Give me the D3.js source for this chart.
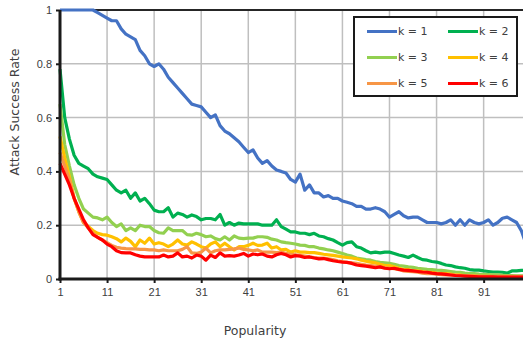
<!DOCTYPE html>
<html>
<head>
<meta charset="utf-8">
<script src="https://cdn.jsdelivr.net/npm/d3@7"></script>
<style>
  body { margin: 0; background: #fff; }
  svg { display: block; font-family: "DejaVu Sans", sans-serif; }
</style>
</head>
<body>
<div id="chart"></div>
<script>
// popularity 1..100
const popularity = d3.range(1, 101);
const xTicks = [1, 11, 21, 31, 41, 51, 61, 71, 81, 91];
const yTicks = [0, 0.2, 0.4, 0.6, 0.8, 1];
const seriesNames = ['k = 1', 'k = 2', 'k = 3', 'k = 4', 'k = 5', 'k = 6'];
const seriesColors = ['#4472C4', '#00B050', '#92D050', '#FFC000', '#F79646', '#FF0000'];

const k1 = [1, 1, 1, 1, 1, 1, 1, 1, 0.99, 0.98,
  0.97, 0.96, 0.96, 0.93, 0.91, 0.9, 0.89, 0.85, 0.83, 0.8,
  0.79, 0.8, 0.78, 0.75, 0.73, 0.71, 0.69, 0.67, 0.65, 0.645,
  0.64, 0.62, 0.6, 0.61, 0.57, 0.55, 0.54, 0.525, 0.51, 0.49,
  0.47, 0.48, 0.45, 0.43, 0.44, 0.42, 0.405, 0.4, 0.394, 0.37,
  0.36, 0.39, 0.33, 0.35, 0.32, 0.32, 0.305, 0.31, 0.3, 0.3,
  0.29, 0.285, 0.28, 0.27, 0.27, 0.26, 0.26, 0.265, 0.26, 0.25,
  0.23, 0.24, 0.25, 0.235, 0.227, 0.23, 0.23, 0.22, 0.21, 0.21,
  0.21, 0.205, 0.21, 0.22, 0.2, 0.22, 0.2, 0.22, 0.21, 0.205,
  0.21, 0.22, 0.2, 0.21, 0.226, 0.23, 0.22, 0.21, 0.18, 0.13];
const k2 = [0.78, 0.6, 0.52, 0.46, 0.43, 0.42, 0.41, 0.39, 0.38, 0.375,
  0.37, 0.35, 0.33, 0.32, 0.33, 0.3, 0.32, 0.29, 0.3, 0.28,
  0.256, 0.25, 0.25, 0.265, 0.23, 0.245, 0.24, 0.23, 0.238, 0.232,
  0.22, 0.225, 0.225, 0.22, 0.24, 0.2, 0.21, 0.2, 0.208, 0.205,
  0.205, 0.205, 0.205, 0.2, 0.2, 0.2, 0.22, 0.195, 0.185, 0.175,
  0.175, 0.17, 0.17, 0.165, 0.17, 0.16, 0.157, 0.15, 0.145, 0.135,
  0.126, 0.135, 0.138, 0.12, 0.115, 0.105, 0.097, 0.1, 0.097, 0.1,
  0.1, 0.095, 0.089, 0.085, 0.08, 0.089, 0.08, 0.072, 0.07, 0.065,
  0.063, 0.058, 0.052, 0.05, 0.045, 0.042, 0.04, 0.035, 0.033, 0.033,
  0.03, 0.028, 0.026, 0.026, 0.025, 0.022, 0.03, 0.03, 0.032, 0.032];
const k3 = [0.65, 0.5, 0.42, 0.35, 0.3, 0.26, 0.245, 0.23, 0.227, 0.22,
  0.23, 0.21, 0.195, 0.205, 0.18, 0.19, 0.18, 0.2, 0.195, 0.195,
  0.18, 0.172, 0.17, 0.19, 0.18, 0.18, 0.18, 0.165, 0.163, 0.17,
  0.165, 0.157, 0.16, 0.15, 0.145, 0.157, 0.145, 0.16, 0.152, 0.15,
  0.152, 0.152, 0.157, 0.157, 0.155, 0.148, 0.145, 0.138, 0.135, 0.133,
  0.13, 0.126, 0.125, 0.12, 0.12, 0.115, 0.112, 0.108, 0.105, 0.1,
  0.095, 0.089, 0.085, 0.078, 0.075, 0.072, 0.07, 0.065, 0.062, 0.06,
  0.058, 0.055, 0.05, 0.048, 0.045, 0.043, 0.04, 0.038, 0.036, 0.035,
  0.033, 0.032, 0.03, 0.028, 0.026, 0.025, 0.022, 0.02, 0.02, 0.018,
  0.017, 0.016, 0.015, 0.015, 0.014, 0.013, 0.013, 0.012, 0.012, 0.012];
const k4 = [0.53, 0.45, 0.38, 0.3, 0.25, 0.21, 0.195, 0.18, 0.17, 0.165,
  0.163, 0.157, 0.15, 0.138, 0.152, 0.14, 0.12, 0.145, 0.133, 0.152,
  0.13, 0.135, 0.13, 0.12, 0.13, 0.145, 0.13, 0.126, 0.138, 0.13,
  0.12, 0.115, 0.13, 0.138, 0.12, 0.133, 0.12, 0.108, 0.12, 0.12,
  0.125, 0.133, 0.125, 0.126, 0.133, 0.115, 0.12, 0.108, 0.11, 0.1,
  0.105, 0.1, 0.1, 0.098, 0.098, 0.095, 0.092, 0.09, 0.088, 0.085,
  0.082, 0.08, 0.078, 0.075, 0.07, 0.066, 0.063, 0.06, 0.055, 0.05,
  0.05, 0.045, 0.04, 0.035, 0.035, 0.03, 0.03, 0.028, 0.025, 0.025,
  0.022, 0.02, 0.02, 0.018, 0.015, 0.015, 0.013, 0.012, 0.012, 0.01,
  0.01, 0.01, 0.009, 0.009, 0.009, 0.008, 0.008, 0.008, 0.008, 0.008];
const k5 = [0.47, 0.42, 0.37, 0.3, 0.25, 0.21, 0.19, 0.17, 0.155, 0.145,
  0.135, 0.125, 0.118, 0.115, 0.113, 0.112, 0.112, 0.11, 0.11, 0.108,
  0.108, 0.105, 0.108, 0.105, 0.105, 0.105, 0.11, 0.12, 0.097, 0.095,
  0.1, 0.115, 0.097, 0.105, 0.108, 0.108, 0.11, 0.112, 0.115, 0.11,
  0.108, 0.105, 0.108, 0.1, 0.1, 0.1, 0.098, 0.1, 0.095, 0.092,
  0.09, 0.088, 0.085, 0.082, 0.08, 0.078, 0.078, 0.075, 0.072, 0.068,
  0.065, 0.062, 0.06, 0.058, 0.055, 0.052, 0.05, 0.048, 0.045, 0.042,
  0.04, 0.038, 0.035, 0.03, 0.028, 0.027, 0.025, 0.022, 0.02, 0.02,
  0.018, 0.016, 0.015, 0.015, 0.014, 0.013, 0.012, 0.012, 0.011, 0.011,
  0.01, 0.01, 0.01, 0.01, 0.01, 0.01, 0.01, 0.01, 0.01, 0.01];
const k6 = [0.43, 0.39, 0.35, 0.3, 0.26, 0.22, 0.19, 0.165, 0.155, 0.145,
  0.13, 0.12, 0.105, 0.098, 0.097, 0.097, 0.09, 0.085, 0.082, 0.082,
  0.082, 0.082, 0.089, 0.082, 0.085, 0.097, 0.082, 0.085, 0.078, 0.089,
  0.085, 0.07, 0.089, 0.08, 0.097, 0.085, 0.087, 0.085, 0.089, 0.095,
  0.085, 0.093, 0.09, 0.093, 0.085, 0.082, 0.09, 0.095, 0.09, 0.082,
  0.087, 0.085, 0.08, 0.082, 0.078, 0.075, 0.076, 0.072, 0.068, 0.065,
  0.063, 0.062, 0.058, 0.052, 0.05, 0.048, 0.045, 0.042, 0.045, 0.04,
  0.038, 0.04, 0.036, 0.033, 0.032, 0.03, 0.028, 0.026, 0.025, 0.022,
  0.02, 0.019, 0.017, 0.015, 0.013, 0.012, 0.011, 0.01, 0.009, 0.008,
  0.008, 0.008, 0.008, 0.007, 0.007, 0.007, 0.007, 0.007, 0.007, 0.007];
const seriesValues = [k1, k2, k3, k4, k5, k6];

const width = 523, height = 340;
const margin = { top: 10, right: -3, bottom: 61, left: 60 };
const plotW = width - margin.left - margin.right;
const plotH = height - margin.top - margin.bottom;

const svg = d3.select('#chart')
  .append('svg')
  .attr('width', width)
  .attr('height', height);

const x = d3.scaleLinear().domain([1, 100]).range([0, plotW]);
const y = d3.scaleLinear().domain([0, 1]).range([plotH, 0]);

const g = svg.append('g')
  .attr('transform', `translate(${margin.left},${margin.top})`);

// gridlines
g.append('g')
  .selectAll('line')
  .data(xTicks.slice(1))
  .join('line')
  .attr('x1', d => x(d)).attr('x2', d => x(d))
  .attr('y1', 0).attr('y2', plotH)
  .attr('stroke', '#bfbfbf')
  .attr('stroke-width', 1.5);

g.append('g')
  .selectAll('line')
  .data(yTicks.slice(1, -1))
  .join('line')
  .attr('x1', 0).attr('x2', plotW)
  .attr('y1', d => y(d)).attr('y2', d => y(d))
  .attr('stroke', '#bfbfbf')
  .attr('stroke-width', 1.5);

// top border
g.append('line')
  .attr('x1', 0).attr('x2', plotW)
  .attr('y1', 0).attr('y2', 0)
  .attr('stroke', '#262626')
  .attr('stroke-width', 2);

// lines
const line = d3.line()
  .x((d, i) => x(popularity[i]))
  .y(d => y(d));

g.append('g')
  .selectAll('path')
  .data(seriesValues)
  .join('path')
  .attr('d', line)
  .attr('fill', 'none')
  .attr('stroke', (d, i) => seriesColors[i])
  .attr('stroke-width', 3.2)
  .attr('stroke-linejoin', 'round');

// axes
const xAxis = g.append('g')
  .attr('transform', `translate(0,${plotH})`)
  .call(d3.axisBottom(x).tickValues(xTicks).tickSize(4).tickPadding(5));
xAxis.select('.domain').attr('stroke', '#1a1a1a').attr('stroke-width', 3).attr('d', `M-1.5,0H${plotW}`);
xAxis.selectAll('.tick line').attr('stroke', '#1a1a1a').attr('stroke-width', 2);
xAxis.selectAll('.tick text').attr('fill', '#404040').style('font-size', '11px');

const yAxis = g.append('g')
  .call(d3.axisLeft(y).tickValues(yTicks).tickSize(4).tickPadding(4)
    .tickFormat(d => d === 0 || d === 1 ? String(d) : d3.format('.1f')(d)));
yAxis.select('.domain').attr('stroke', '#1a1a1a').attr('stroke-width', 3).attr('d', `M0,0V${plotH + 1.5}`);
yAxis.selectAll('.tick line').attr('stroke', '#1a1a1a').attr('stroke-width', 2);
yAxis.selectAll('.tick text').attr('fill', '#404040').style('font-size', '11px');

// axis titles
svg.append('text')
  .attr('x', 255).attr('y', 335)
  .attr('text-anchor', 'middle')
  .attr('fill', '#404040')
  .style('font-size', '12.5px')
  .text('Popularity');

svg.append('text')
  .attr('transform', 'translate(19,112) rotate(-90)')
  .attr('text-anchor', 'middle')
  .attr('fill', '#404040')
  .style('font-size', '12.5px')
  .text('Attack Success Rate');

// legend
const legend = svg.append('g').attr('transform', 'translate(354,17)');
legend.append('rect')
  .attr('width', 163).attr('height', 79)
  .attr('fill', '#fff')
  .attr('stroke', '#1a1a1a')
  .attr('stroke-width', 2);

const items = legend.selectAll('g')
  .data(seriesNames)
  .join('g')
  .attr('transform', (d, i) => `translate(${(i % 2) * 81 + 13},${Math.floor(i / 2) * 26 + 14.5})`);

items.append('line')
  .attr('x1', 0).attr('x2', 30)
  .attr('stroke', (d, i) => seriesColors[i])
  .attr('stroke-width', 3);

items.append('text')
  .attr('x', 31).attr('dy', '0.35em')
  .attr('fill', '#404040')
  .style('font-size', '11px')
  .text(d => d);
</script>
</body>
</html>
